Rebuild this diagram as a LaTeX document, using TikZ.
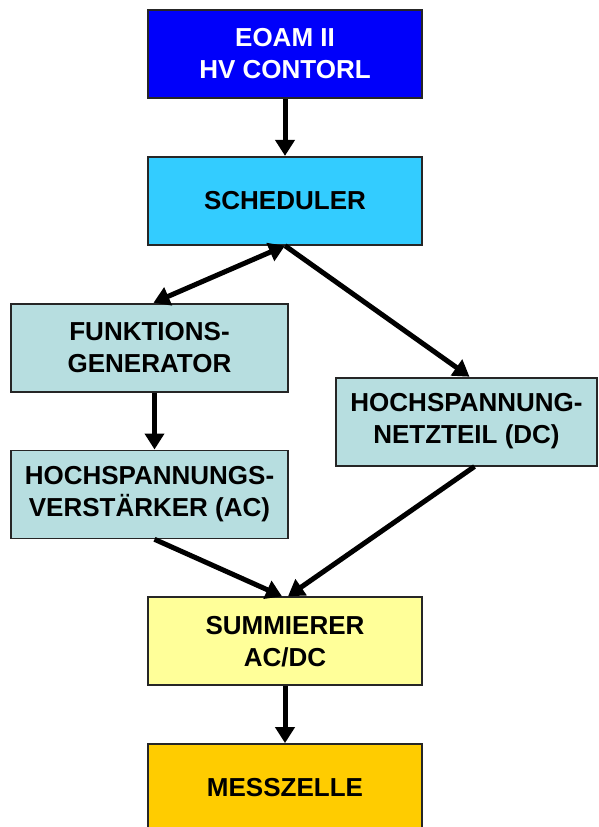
\documentclass[tikz,border=0pt]{standalone}
\usepackage{fontspec}
\setmainfont{Liberation Sans}
\usepackage{xcolor}
\definecolor{colorControl}{RGB}{0,0,250}
\definecolor{colorScheduler}{RGB}{51,204,255}
\definecolor{colorStage}{RGB}{183,222,224}
\definecolor{colorSum}{RGB}{255,255,153}
\definecolor{colorCell}{RGB}{255,204,0}
\usetikzlibrary{arrows.meta, positioning}
\tikzset{block/.style={draw=black!85, line width=1.8pt, minimum width=274pt, minimum height=88pt, inner sep=0pt, align=center, font=\fontsize{26}{32}\selectfont\bfseries}}

\begin{document}
\begin{tikzpicture}[>={Triangle[length=16pt,width=19pt]}, line width=5pt, node distance=57pt]
\useasboundingbox (0,0) rectangle (598pt,-827pt);
\node[block, fill=colorControl, text=white] (eoam) at (285pt,-54pt) {EOAM II\\HV CONTORL};
\node[block, fill=colorScheduler, below=of eoam] (sched) {SCHEDULER};
\node[block, fill=colorStage, minimum width=277pt, below=of sched, xshift=-135.5pt] (funk) {FUNKTIONS-\\GENERATOR};
\node[block, fill=colorStage, minimum width=261pt, below=131pt of sched, xshift=181.5pt] (netz) {HOCHSPANNUNG-\\NETZTEIL (DC)};
\node[block, fill=colorStage, minimum width=277pt, below=of funk] (verst) {HOCHSPANNUNGS-\\VERST\"ARKER (AC)};
\node[block, fill=colorSum, below=of verst, xshift=135.5pt] (summ) {SUMMIERER\\AC/DC};
\node[block, fill=colorCell, below=of summ] (mess) {MESSZELLE};
\draw[->] (eoam) -- (sched);
\draw[<->] ([xshift=4pt]funk.north) -- (sched.south);
\draw[->] (sched.south) -- ([xshift=3pt]netz.north);
\draw[->] ([xshift=5pt]funk.south) -- ([xshift=5pt]verst.north);
\draw[->] ([xshift=5pt]verst.south) -- ([xshift=-3pt]summ.north);
\draw[->] ([xshift=8pt]netz.south) -- ([xshift=3pt]summ.north);
\draw[->] (summ) -- (mess);
\end{tikzpicture}
\end{document}
